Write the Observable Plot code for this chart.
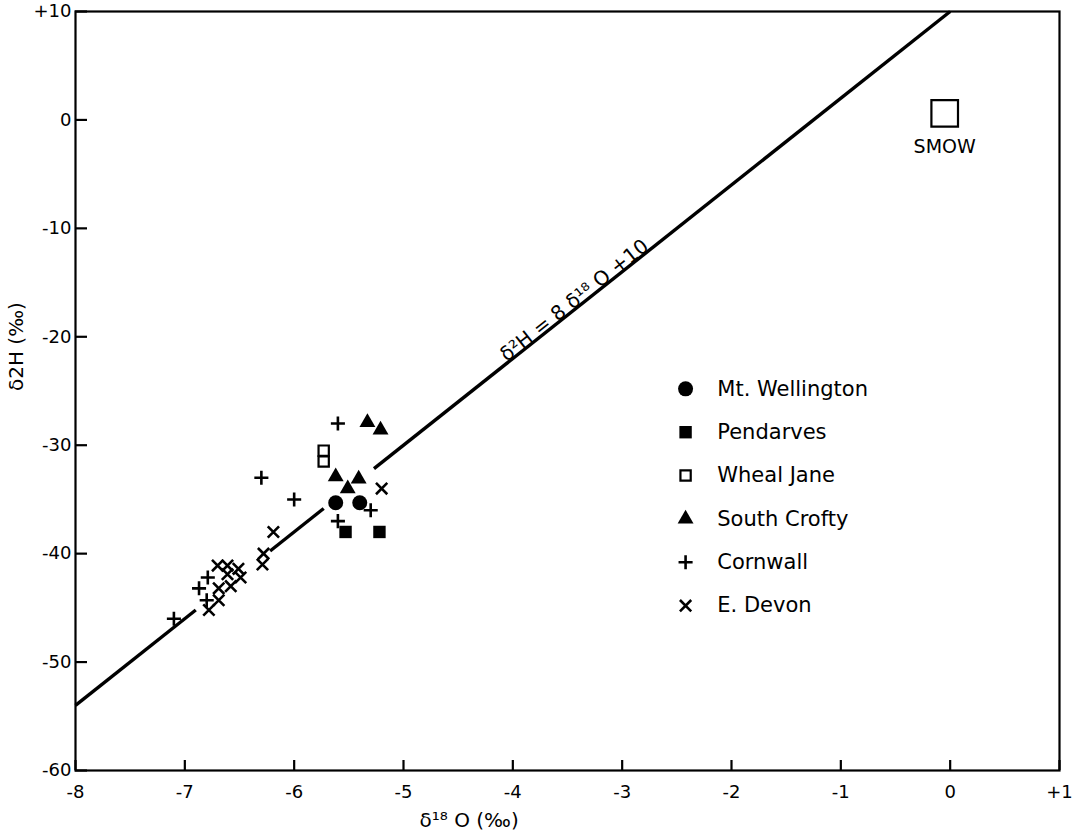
<!DOCTYPE html>
<html>
<head>
<meta charset="utf-8">
<script src="https://cdn.jsdelivr.net/npm/d3@7"></script>
<script src="https://cdn.jsdelivr.net/npm/@observablehq/plot@0.6"></script>
<style>
  body { margin: 0; background: #fff; }
  #chart svg { display: block; }
</style>
</head>
<body>
<div id="chart"></div>
<script>
// ---- tick values ----
const xTicks = [-8, -7, -6, -5, -4, -3, -2, -1, 0, 1];
const yTicks = [-60, -50, -40, -30, -20, -10, 0, 10];

// ---- series (δ18O, δ2H) ----
const mtWellingtonX = [-5.62, -5.40];
const mtWellingtonY = [-35.3, -35.3];

const pendarvesX = [-5.53, -5.22];
const pendarvesY = [-38.0, -38.0];

const whealJaneX = [-5.73, -5.73];
const whealJaneY = [-30.5, -31.5];

const southCroftyX = [-5.33, -5.21, -5.62, -5.41, -5.51];
const southCroftyY = [-27.9, -28.6, -32.9, -33.1, -34.0];

const cornwallX = [-7.10, -6.30, -6.00, -5.60, -5.30, -5.60, -6.87, -6.79, -6.80];
const cornwallY = [-46.0, -33.0, -35.0, -28.0, -36.0, -37.0, -43.2, -42.2, -44.3];

const eDevonX = [-6.19, -6.28, -6.29, -5.20, -6.70, -6.61, -6.51, -6.61, -6.49, -6.69, -6.58, -6.69, -6.78];
const eDevonY = [-38.0, -40.0, -41.0, -34.0, -41.1, -41.1, -41.4, -41.9, -42.2, -43.2, -43.0, -44.3, -45.2];

const smowX = [-0.05];
const smowY = [0.6];

// meteoric water line  δ2H = 8 δ18O + 10, drawn in broken segments
const mwlSegment = [0, 0, 1, 1, 2, 2];
const mwlX = [-8.0, -6.90, -6.22, -5.73, -5.27, 0.0];
const mwlY = [-54.0, -45.2, -39.76, -35.84, -32.16, 10.0];

const legendNames = ["Mt. Wellington", "Pendarves", "Wheal Jane", "South Crofty", "Cornwall", "E. Devon"];
const equationText = "δ²H = 8 δ¹⁸ O +10";

// ---- build tables ----
const series = [
  {name: "Mt. Wellington", x: mtWellingtonX, y: mtWellingtonY},
  {name: "Pendarves", x: pendarvesX, y: pendarvesY},
  {name: "Wheal Jane", x: whealJaneX, y: whealJaneY},
  {name: "South Crofty", x: southCroftyX, y: southCroftyY},
  {name: "Cornwall", x: cornwallX, y: cornwallY},
  {name: "E. Devon", x: eDevonX, y: eDevonY}
];

const styles = {
  "Mt. Wellington": {symbol: "circle", r: 7.5, fill: "#000", stroke: "none"},
  "Pendarves": {symbol: "square", r: 7.0, fill: "#000", stroke: "none"},
  "Wheal Jane": {symbol: "square", r: 5.8, fill: "#fff", stroke: "#000", strokeWidth: 2.2},
  "South Crofty": {symbol: "triangle", r: 5.9, fill: "#000", stroke: "none"},
  "Cornwall": {symbol: "plus", r: 4.6, fill: "none", stroke: "#000", strokeWidth: 2.6},
  "E. Devon": {symbol: "times", r: 5.2, fill: "none", stroke: "#000", strokeWidth: 2.6}
};

const mwl = mwlX.map((x, i) => ({x, y: mwlY[i], seg: mwlSegment[i]}));

const fmt = d => d > 0 ? "+" + d : (d < 0 ? "-" + Math.abs(d) : "0");

const FONT = "DejaVu Sans";

const marks = [];

// frame
marks.push(Plot.frame({stroke: "#000", strokeWidth: 2.2}));

// meteoric water line
marks.push(Plot.line(mwl, {x: "x", y: "y", z: "seg", stroke: "#000", strokeWidth: 3.4, strokeLinecap: "butt"}));

// equation label along the line
marks.push(Plot.text([{x: -3.40, y: -17.2}], {
  x: "x", y: "y", text: () => equationText, rotate: -38.43,
  lineAnchor: "bottom", textAnchor: "middle", fontSize: 20, fill: "#000", dy: -1
}));

// data series
for (const s of series) {
  const data = s.x.map((x, i) => ({x, y: s.y[i]}));
  marks.push(Plot.dot(data, {x: "x", y: "y", ...styles[s.name]}));
}

// SMOW
const smow = smowX.map((x, i) => ({x, y: smowY[i]}));
marks.push(Plot.dot(smow, {
  x: "x", y: "y", symbol: "square", r: 15, fill: "#fff", stroke: "#000", strokeWidth: 2.2
}));
marks.push(Plot.text(smow, {
  x: "x", y: "y", text: () => "SMOW", dy: 33, fontSize: 19, fill: "#000"
}));

// legend (inside plot)
const legendSymbolX = -2.42, legendTextX = -2.13, legendTopY = -24.8, legendStepY = 4.0;
legendNames.forEach((name, i) => {
  const row = [{x: legendSymbolX, y: legendTopY - i * legendStepY}];
  marks.push(Plot.dot(row, {x: "x", y: "y", ...styles[name]}));
  marks.push(Plot.text([{x: legendTextX, y: legendTopY - i * legendStepY}], {
    x: "x", y: "y", text: () => name, textAnchor: "start", fontSize: 21, fill: "#000"
  }));
});

// axes
marks.push(Plot.axisX({
  ticks: xTicks, tickFormat: fmt, tickSize: -10, tickPadding: 25,
  strokeWidth: 2.2, fontSize: 18, label: null
}));
marks.push(Plot.axisY({
  ticks: yTicks, tickFormat: fmt, tickSize: -12, tickPadding: 16,
  strokeWidth: 2.2, fontSize: 18, label: null
}));

// axis titles
marks.push(Plot.text([0], {
  frameAnchor: "left", text: () => "δ2H (‰)", rotate: -90, dx: -59,
  fontSize: 20, fill: "#000", style: "letter-spacing:1.5px"
}));
marks.push(Plot.text([{x: -4.40}], {
  x: "x", frameAnchor: "bottom", text: () => "δ¹⁸ O (‰)", dy: 56, fontSize: 20, fill: "#000"
}));

const chart = Plot.plot({
  width: 1075,
  height: 838,
  marginLeft: 75,
  marginRight: 16,
  marginTop: 11,
  marginBottom: 68,
  style: {fontFamily: FONT, fontSize: "18px", color: "#000", background: "#fff"},
  x: {domain: [-8, 1]},
  y: {domain: [-60, 10]},
  marks
});

document.getElementById("chart").appendChild(chart);
</script>
</body>
</html>
